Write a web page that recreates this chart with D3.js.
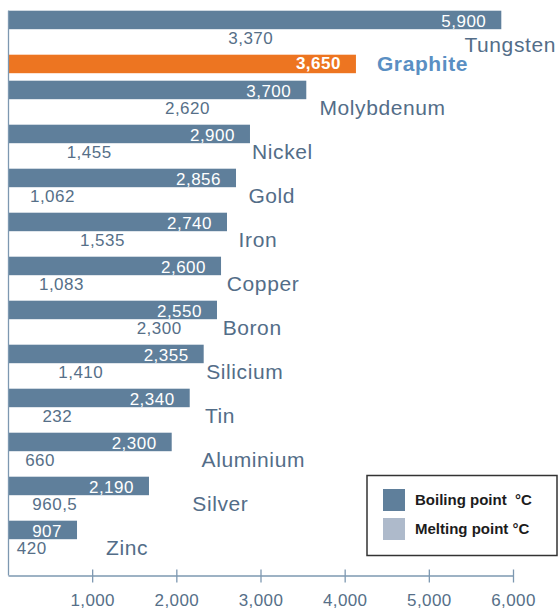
<!DOCTYPE html>
<html>
<head>
<meta charset="utf-8">
<script src="https://cdn.jsdelivr.net/npm/d3@7"></script>
<style>
  body { margin: 0; background: #fff; }
  svg { display: block; font-family: "Liberation Sans", Arial, sans-serif; }
</style>
</head>
<body>
<div id="frame"></div>
<script>
// elements, top to bottom
let elements = ["Tungsten", "Graphite", "Molybdenum", "Nickel", "Gold", "Iron", "Copper",
    "Boron", "Silicium", "Tin", "Aluminium", "Silver", "Zinc"];

// boiling / melting points in °C, as printed on the chart
let boiling = [5900, 3650, 3700, 2900, 2856, 2740, 2600, 2550, 2355, 2340, 2300, 2190, 907];
let boilingLabels = ["5,900", "3,650", "3,700", "2,900", "2,856", "2,740", "2,600", "2,550",
    "2,355", "2,340", "2,300", "2,190", "907"];
let melting = [3370, null, 2620, 1455, 1062, 1535, 1083, 2300, 1410, 232, 660, 960.5, 420];
let meltingLabels = ["3,370", "", "2,620", "1,455", "1,062", "1,535", "1,083", "2,300",
    "1,410", "232", "660", "960,5", "420"];

// bar lengths as they are drawn in the source (they don't quite match the printed values)
let boilingDrawn = [5861, 4134, 3544, 2875, 2709, 2602, 2531, 2483, 2325, 2159, 1945, 1675, 820];
let meltingDrawn = [3330, null, 2578, 1410, 974, 1568, 1081, 2242, 1310, 942, 737, 1002, 638];

let xTicks = [1000, 2000, 3000, 4000, 5000, 6000];
let highlight = "Graphite";

let legendItems = ["Boiling point  °C", "Melting point °C"];

let width = 559, height = 610;

let colors = {
    bar: "#5f7f9b",
    melt: "#aebacb",
    hl: "#ed7521",
    hlText: "#5a8fc3",
    name: "#536d88",
    value: "#566f88",
    axis: "#7d98b1"
};

let data = elements.map((e, i) => ({
    name: e,
    boiling: boiling[i],
    boilingLabel: boilingLabels[i],
    boilingDrawn: boilingDrawn[i],
    melting: melting[i],
    meltingLabel: meltingLabels[i],
    meltingDrawn: meltingDrawn[i]
}));

// rows without a melting value only need room for the bar
data.forEach(d => { d.units = d.melting == null ? 26 / 44 : 1; });
let starts = [0].concat(Array.from(d3.cumsum(data, d => d.units)));
data.forEach((d, i) => { d.row = starts[i]; });
let totalUnits = starts[starts.length - 1];

let x = d3.scaleLinear()
    .domain([0, 6000])
    .range([8, 513]);
let y = d3.scaleLinear()
    .domain([0, totalUnits])
    .range([10.7, 10.7 + 44 * totalUnits]);

let barH = 18.5;

let svg = d3.select('#frame')
    .append('svg')
    .attr('width', width)
    .attr('height', height);

// melting bars (white in the source, so invisible)
svg.append('g').selectAll('rect')
    .data(data.filter(d => d.melting != null))
    .enter()
    .append('rect')
    .attr('x', x(0))
    .attr('y', d => y(d.row) + barH)
    .attr('width', d => x(d.meltingDrawn) - x(0))
    .attr('height', barH)
    .attr('fill', '#fff');

// boiling bars
svg.append('g').selectAll('rect')
    .data(data)
    .enter()
    .append('rect')
    .attr('x', x(0))
    .attr('y', d => y(d.row))
    .attr('width', d => x(d.boilingDrawn) - x(0))
    .attr('height', barH)
    .attr('fill', d => d.name === highlight ? colors.hl : colors.bar);

// boiling value labels inside the bars
svg.append('g').selectAll('text')
    .data(data)
    .enter()
    .append('text')
    .attr('x', d => x(d.boilingDrawn) - 15)
    .attr('y', d => y(d.row) + (d.name === highlight ? 14.5 : 16))
    .attr('text-anchor', 'end')
    .style('font-size', '17px')
    .style('letter-spacing', '0.5px')
    .style('font-weight', d => d.name === highlight ? 'bold' : 'normal')
    .attr('fill', '#fff')
    .text(d => d.boilingLabel);

// melting value labels under the bars
svg.append('g').selectAll('text')
    .data(data.filter(d => d.melting != null))
    .enter()
    .append('text')
    .attr('x', d => x(d.meltingDrawn) - 15)
    .attr('y', d => y(d.row) + 33.5)
    .attr('text-anchor', 'end')
    .style('font-size', '17px')
    .style('letter-spacing', '0.5px')
    .attr('fill', colors.value)
    .text(d => d.meltingLabel);

// element names
let names = svg.append('g').selectAll('text')
    .data(data)
    .enter()
    .append('text')
    .style('font-size', '21px')
    .style('font-weight', d => d.name === highlight ? 'bold' : 'normal')
    .style('letter-spacing', '0.6px')
    .attr('fill', d => d.name === highlight ? colors.hlText : colors.name)
    .text(d => d.name);

names.each(function (d) {
    let t = d3.select(this);
    let w = this.getComputedTextLength();
    if (d.name === highlight) {
        t.attr('x', x(d.boilingDrawn) + 21).attr('y', y(d.row) + 16);
        return;
    }
    let nx = Math.max(x(d.boiling), 106);
    let ny = y(d.row) + 34;
    if (nx + w > width - 2) {
        // no room on the right: pull it in and drop it below the bar
        nx = width - 3 - w;
        ny = y(d.row) + 41;
    }
    t.attr('x', nx).attr('y', ny);
});

// vertical axis line
svg.append('line')
    .attr('x1', 8.5).attr('x2', 8.5)
    .attr('y1', y(0)).attr('y2', 575.5)
    .attr('stroke', colors.axis)
    .attr('stroke-width', 1.3);

// bottom axis
let xAxis = svg.append('g')
    .attr('transform', 'translate(0,575.5)')
    .call(d3.axisBottom(x)
        .tickValues(xTicks)
        .tickFormat(d3.format(','))
        .tickSizeOuter(0)
        .tickSizeInner(7)
        .tickPadding(11));

xAxis.select('.domain')
    .attr('stroke', colors.axis)
    .attr('stroke-width', 1.3);
xAxis.selectAll('.tick line')
    .attr('y1', -6)
    .attr('stroke', colors.axis)
    .attr('stroke-width', 1.3);
xAxis.selectAll('.tick text')
    .attr('fill', colors.value)
    .style('font-size', '17px')
    .style('letter-spacing', '0.4px')
    .style('font-family', '"Liberation Sans", Arial, sans-serif');

// legend
let legend = svg.append('g');
legend.append('rect')
    .attr('x', 367).attr('y', 475.5)
    .attr('width', 190).attr('height', 80)
    .attr('fill', '#fff')
    .attr('stroke', '#333')
    .attr('stroke-width', 1.5);

legendItems.forEach((label, i) => {
    legend.append('rect')
        .attr('x', 383).attr('y', 489 + i * 29)
        .attr('width', 22).attr('height', 22)
        .attr('fill', i === 0 ? colors.bar : colors.melt);
    legend.append('text')
        .attr('x', 415).attr('y', 505 + i * 29)
        .style('font-size', '15px')
        .style('font-weight', 'bold')
        .style('white-space', 'pre')
        .attr('fill', '#1c1c1c')
        .text(label);
});
</script>
</body>
</html>
